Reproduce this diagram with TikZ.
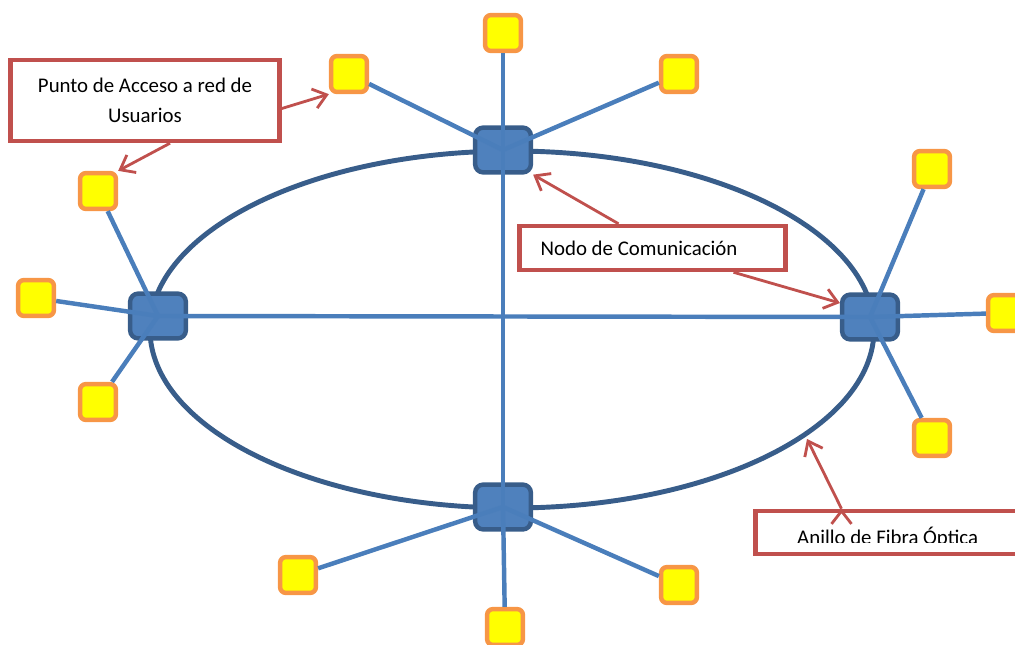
\documentclass[tikz,border=0pt]{standalone}
\usepackage{fontspec}
\setmainfont{Carlito}
\usetikzlibrary{arrows.meta, positioning}
\definecolor{hubfill}{HTML}{4F81BD}
\definecolor{hubline}{HTML}{385D8A}
\definecolor{spokeblue}{HTML}{4A7EBB}
\definecolor{userfill}{HTML}{FFFF00}
\definecolor{useredge}{HTML}{F79646}
\definecolor{notered}{HTML}{C0504D}
\tikzset{
	hub/.style={draw=hubline, fill=hubfill, line width=3.8pt, rounded corners=7pt, minimum width=47.6pt, minimum height=38.3pt, inner sep=0pt},
	user/.style={draw=useredge, fill=userfill, line width=3.8pt, rounded corners=5pt, minimum size=30.6pt, inner sep=0pt},
	note/.style={draw=notered, fill=white, line width=4pt, inner sep=0pt, font=\fontsize{17.8}{25.5}\selectfont},
	spoke/.style={draw=spokeblue, line width=3.8pt},
	pointer/.style={draw=notered, line width=2.4pt, -{Straight Barb[length=11pt, width=17pt, line width=2.4pt]}}
}

\begin{document}
\begin{tikzpicture}[x=0.03cm, y=-0.03cm]
		\useasboundingbox (0,0) rectangle (1015,644);
		\draw [draw=hubline, line width=4.2pt] (512,329.5) ellipse [x radius=10.86cm, y radius=5.355cm];

		\node (hubN) [hub] at (503,150) {};
		\node (hubW) [hub] at (158,316) {};
		\node (hubE) [hub] at (870,317) {};
		\node (hubS) [hub] at (503,507) {};

		\node (userN) [user] at (503,33) {};
		\node (userNE) [user] at (679,74) {};
		\node (userNW) [user] at (349,74) {};
		\node (userWN) [user] at (98,191) {};
		\node (userW) [user] at (36,298) {};
		\node (userWS) [user] at (98,402) {};
		\node (userEN) [user] at (932,169) {};
		\node (userE) [user] at (1006,313) {};
		\node (userES) [user] at (932,438) {};
		\node (userSW) [user] at (298,575) {};
		\node (userS) [user] at (505,627) {};
		\node (userSE) [user] at (679,585) {};

		\path [spoke]
		(hubN.center) edge (userN) edge (userNE) edge (userNW) edge (hubS.center)
		(hubW.center) edge (userWN) edge (userW) edge (userWS) edge (hubE.center)
		(hubE.center) edge (userEN) edge (userE) edge (userES)
		(hubS.center) edge (userSW) edge (userS) edge (userSE)
		;

		\node (accessnote) [note, minimum width=229.6pt, minimum height=68.9pt, align=center] at (145,100.5) {Punto de Acceso a red de\\Usuarios};
		\node (hubnote) [note, text width=191pt, inner xsep=17.9pt, minimum height=37.4pt, align=flush left] at (652.5,248) {Nodo de Comunicación};
		\node (ringnote) [note, minimum width=232pt, minimum height=36.6pt] at (891.5,532.5) {};
		\begin{scope}
			\clip (753,500) rectangle (1015,542);
			\node (ringtext) [anchor=base west, inner sep=0pt, font=\fontsize{17.8}{25.5}\selectfont] at (797,544) {Anillo de Fibra Óptica};
		\end{scope}
		\coordinate (ringmark) at (807,439);

		\path [pointer]
		([shift={(0,8)}]accessnote.east) edge (userNW.south west)
		([shift={(25,0)}]accessnote.south) edge (userWN.north east)
		([shift={(-34,0)}]hubnote.north) edge (hubN.south east)
		([shift={(81,0)}]hubnote.south) edge ([shift={(0,-14)}]hubE.west)
		([shift={(-50,0)}]ringnote.north) edge (ringmark)
		;
	\end{tikzpicture}
\end{document}
